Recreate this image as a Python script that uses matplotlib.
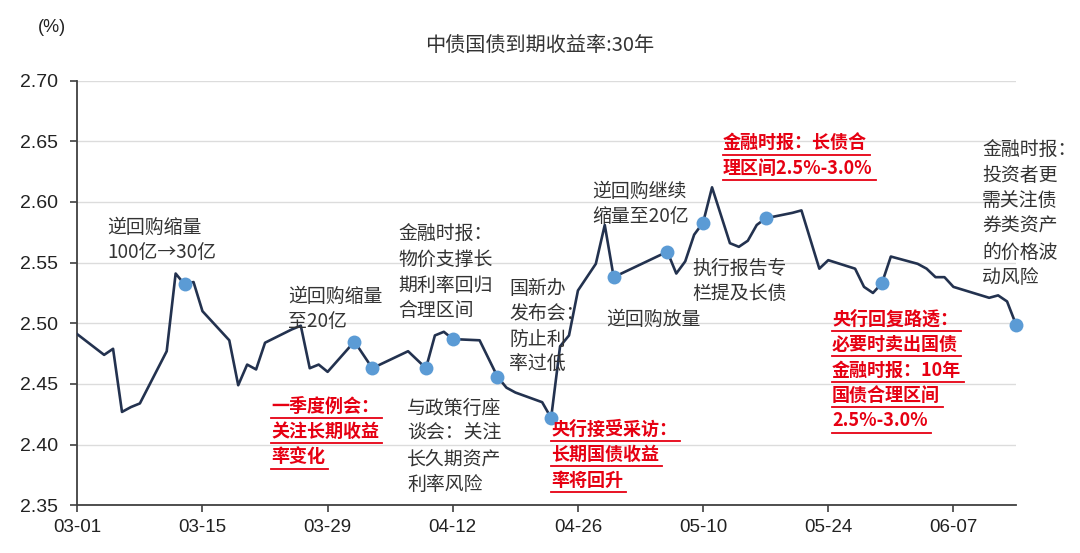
import numpy as np
import pandas as pd
import matplotlib
matplotlib.use('Agg')
import matplotlib.pyplot as plt
import matplotlib.dates as mdates
from matplotlib.lines import Line2D

plt.rcParams['font.family'] = ['Noto Sans CJK SC', 'DejaVu Sans']

# 中债国债到期收益率:30年 (2024)
dates = ['03-01', '03-04', '03-05', '03-06', '03-07', '03-08', '03-11', '03-12', '03-13', '03-14',
         '03-15', '03-18', '03-19', '03-20', '03-21', '03-22', '03-25', '03-26', '03-27', '03-28',
         '03-29', '04-01', '04-02', '04-03', '04-07', '04-08', '04-09', '04-10', '04-11', '04-12',
         '04-15', '04-16', '04-17', '04-18', '04-19', '04-22', '04-23', '04-24', '04-25', '04-26',
         '04-28', '04-29', '04-30', '05-06', '05-07', '05-08', '05-09', '05-10', '05-11', '05-13',
         '05-14', '05-15', '05-16', '05-17', '05-20', '05-21', '05-22', '05-23', '05-24', '05-27',
         '05-28', '05-29', '05-30', '05-31', '06-03', '06-04', '06-05', '06-06', '06-07', '06-11',
         '06-12', '06-13', '06-14']
yields = [2.491, 2.474, 2.479, 2.427, 2.431, 2.434, 2.477, 2.541, 2.532, 2.534,
          2.510, 2.486, 2.449, 2.466, 2.462, 2.484, 2.495, 2.498, 2.463, 2.466,
          2.460, 2.485, 2.474, 2.463, 2.477, 2.470, 2.463, 2.490, 2.493, 2.487,
          2.486, 2.471, 2.456, 2.447, 2.443, 2.435, 2.422, 2.481, 2.490, 2.527,
          2.549, 2.581, 2.538, 2.559, 2.541, 2.551, 2.573, 2.583, 2.612, 2.566,
          2.563, 2.568, 2.581, 2.5865, 2.591, 2.593, 2.569, 2.545, 2.552, 2.545,
          2.530, 2.525, 2.533, 2.555, 2.549, 2.545, 2.538, 2.538, 2.530, 2.521,
          2.523, 2.518, 2.499]

# 事件点
event_dates = ['03-13', '04-01', '04-03', '04-09', '04-12', '04-17', '04-23',
               '04-30', '05-06', '05-10', '05-17', '05-30', '06-14']

year = '2024-'
x = pd.to_datetime([year + d for d in dates])
s = pd.Series(yields, index=x)
ev_x = pd.to_datetime([year + d for d in event_dates])
ev_y = s[ev_x].values

y_ticks = [2.35, 2.40, 2.45, 2.50, 2.55, 2.60, 2.65, 2.70]

W, H = 1080, 553
fig = plt.figure(figsize=(10.8, 5.53), dpi=100)
ax = fig.add_axes([77.3 / W, 1 - 505.4 / H, (1016 - 77.3) / W, (505.4 - 80.5) / H])

ax.plot(s.index, s.values, color='#23324f', lw=1.9, zorder=3)
ax.plot(ev_x, ev_y, 'o', color='#5b9bd5', ms=10, mec='none', zorder=4, clip_on=False)

ax.set_xlim(x[0], x[-1])
ax.set_ylim(y_ticks[0], y_ticks[-1])
ax.set_yticks(y_ticks)
ax.set_yticklabels(['%.2f' % v for v in y_ticks], family='Liberation Sans', fontsize=14)
xt = pd.date_range(x[0], x[-1], freq='14D')
ax.set_xticks(xt)
ax.xaxis.set_major_formatter(mdates.DateFormatter('%m-%d'))
for lab in ax.get_xticklabels():
    lab.set_family('Liberation Sans')
    lab.set_fontsize(13.5)
ax.tick_params(axis='y', length=5, width=1.2, pad=9, color='#404040', labelcolor='#222222')
ax.tick_params(axis='x', length=5, width=1.2, pad=5, color='#404040', labelcolor='#222222')
ax.yaxis.grid(True, color='#dcdcdc', lw=1)
ax.set_axisbelow(True)
for sp in ['top', 'right']:
    ax.spines[sp].set_visible(False)
for sp in ['left', 'bottom']:
    ax.spines[sp].set_color('#404040')
    ax.spines[sp].set_linewidth(1.3)

fig.text(0.5, 1 - 45 / H, '中债国债到期收益率:30年', ha='center', va='center',
         fontsize=14.5, color='#333333')
fig.text(38 / W, 1 - 27 / H, '(%)', ha='left', va='center', fontsize=13,
         family='Liberation Sans', color='#222222')

# 注释文字: (行, 左侧x像素, 首行中心y像素, 是否红色)
notes = [
    (['逆回购缩量', '100亿→30亿'], 107, 227, False),
    (['逆回购缩量', '至20亿'], 288, 296, False),
    (['金融时报：', '物价支撑长', '期利率回归', '合理区间'], 398, 234, False),
    (['国新办', '发布会：', '防止利', '率过低'], 509, 288, False),
    (['逆回购继续', '缩量至20亿'], 592, 191, False),
    (['逆回购放量'], 606, 319, False),
    (['执行报告专', '栏提及长债'], 692, 268, False),
    (['金融时报：', '投资者更', '需关注债', '券类资产', '的价格波', '动风险'], 982, 150, False),
    (['金融时报：长债合', '理区间2.5%-3.0%'], 723, 143, True),
    (['央行回复路透：', '必要时卖出国债', '金融时报：10年', '国债合理区间', '2.5%-3.0%'], 832, 319, True),
    (['一季度例会：', '关注长期收益', '率变化'], 271, 406, True),
    (['与政策行座', '谈会：关注', '长久期资产', '利率风险'], 407, 408, False),
    (['央行接受采访：', '长期国债收益', '率将回升'], 551, 429, True),
]
pitch = 25.5
red_texts = []
for lines, px, py, red in notes:
    for i, line in enumerate(lines):
        t = fig.text(px / W, 1 - (py + i * pitch) / H, line, ha='left', va='center',
                     fontsize=13 if red else 13.6, color='#e60012' if red else '#333333',
                     fontweight='bold' if red else 'normal', zorder=5)
        if red:
            red_texts.append(t)

fig.canvas.draw()
r = fig.canvas.get_renderer()
inv = fig.transFigure.inverted()
for t in red_texts:
    bb = t.get_window_extent(r)
    (x0, y0), (x1, _) = inv.transform([(bb.x0, bb.y0 - 2), (bb.x1 + 3, bb.y0)])
    fig.add_artist(Line2D([x0, x1], [y0, y0], transform=fig.transFigure,
                          color='#e60012', lw=1.3))

fig.savefig('out.png', dpi=100)
